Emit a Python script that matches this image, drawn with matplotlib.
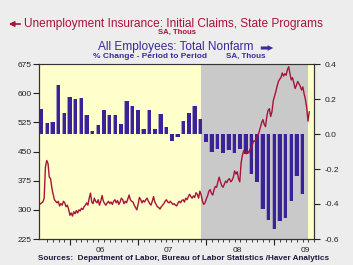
import matplotlib.pyplot as plt
import numpy as np

plt.rcParams['font.family'] = ['Liberation Sans', 'DejaVu Sans']

# weekly initial claims, thousands (from mid-2005)
claims = [313, 315, 318, 320, 330, 410, 427, 419, 384, 380,
          356, 340, 326, 322, 318, 322, 310, 316, 312, 322,
          318, 308, 312, 302, 286, 292, 284, 295, 290, 298,
          292, 300, 297, 304, 301, 308, 312, 318, 312, 330,
          343, 320, 316, 330, 322, 318, 326, 312, 322, 337,
          322, 316, 312, 318, 322, 316, 320, 314, 322, 326,
          318, 324, 314, 320, 330, 326, 316, 322, 318, 328,
          338, 326, 322, 320, 312, 306, 300, 314, 332, 326,
          318, 324, 320, 326, 330, 322, 316, 312, 322, 334,
          320, 314, 308, 306, 302, 308, 312, 316, 322, 326,
          320, 318, 322, 318, 314, 316, 312, 310, 318, 322,
          318, 324, 326, 320, 330, 326, 334, 340, 334, 330,
          336, 332, 344, 340, 330, 348, 338, 322, 314, 318,
          328, 336, 348, 352, 342, 338, 352, 360, 358, 372,
          384, 372, 362, 358, 366, 374, 370, 378, 380, 372,
          376, 384, 400, 392, 398, 380, 372, 420, 440, 452,
          448, 444, 452, 446, 456, 460, 470, 478, 476, 484,
          490, 500, 512, 524, 532, 520, 514, 540, 556, 560,
          540, 552, 580, 592, 604, 618, 630, 636, 640, 652,
          644, 650, 646, 660, 668, 650, 634, 640, 626, 612,
          620, 630, 624, 618, 608, 616, 598, 584, 562, 528,
          552]
claims_start = 2005.545
week_step = 0.0189

# monthly nonfarm payrolls, % change, Aug 2005 - Jun 2009
payroll_pct = [0.141, 0.064, 0.070, 0.279, 0.120, 0.214, 0.198, 0.208, 0.110, 0.020,
               0.050, 0.135, 0.106, 0.106, 0.059, 0.190, 0.162, 0.135, 0.026, 0.135,
               0.026, 0.112, 0.040, -0.041, -0.016, 0.072, 0.122, 0.158, 0.086, -0.046,
               -0.103, -0.086, -0.111, -0.092, -0.111, -0.086, -0.115, -0.230, -0.272, -0.431,
               -0.494, -0.540, -0.498, -0.479, -0.381, -0.238, -0.345]
bar_start = 2005 + 7 / 12

recession = (2007 + 11 / 12, 2009.495)
years = [2006, 2007, 2008, 2009]
year_labels = ['06', '07', '08', '09']

red = '#A8133A'
blue = '#3A2A9C'
W, H = 353, 265

fig = plt.figure(figsize=(W / 100, H / 100), dpi=100, facecolor='#EDEDED')
ax = fig.add_axes([39 / W, 26 / H, 275 / W, 175 / H])
ax2 = ax.twinx()
ax.set_zorder(2)
ax2.set_zorder(1)
ax.patch.set_visible(False)
ax2.patch.set_visible(True)
ax2.patch.set_facecolor('#FFFFCC')

ax2.axvspan(recession[0], recession[1], color='#C9C9C9', lw=0, zorder=0)

bx = bar_start + np.arange(len(payroll_pct)) / 12
ax2.bar(bx - 0.01, payroll_pct, width=0.054, color='#A29CC0', zorder=2)
ax2.bar(bx, payroll_pct, width=0.052, color='#3B2296', zorder=3)

cx = claims_start + np.arange(len(claims)) * week_step
ax.plot(cx, claims, color=red, lw=1.0)

ax.set_xlim(2005.545, 2009.537)
ax.set_ylim(225, 675)
ax2.set_ylim(-0.6, 0.4)

ax.set_yticks([225, 300, 375, 450, 525, 600, 675])
ax2.set_yticks([-0.6, -0.4, -0.2, 0.0, 0.2, 0.4])
ax2.set_yticklabels([f'{v:.1f}' for v in [-0.6, -0.4, -0.2, 0.0, 0.2, 0.4]])
ax.tick_params(axis='y', direction='out', length=4, labelsize=6, pad=1, colors='#222222')
ax2.tick_params(axis='y', direction='out', length=4, labelsize=6, pad=4, colors='#222222')

months = bar_start - 7 / 12 + np.arange(8, 56) / 12
ax.set_xticks(years)
ax.set_xticklabels([])
ax.set_xticks(months, minor=True)
ax.tick_params(axis='x', which='major', direction='out', length=4, color='#222222')
ax.tick_params(axis='x', which='minor', direction='out', length=2, color='#222222')
for y, lab in zip(years, year_labels):
    ax.text(y + 0.45, -0.045, lab, transform=ax.get_xaxis_transform(),
            ha='center', va='top', fontsize=6, color='#222222')

for a in (ax, ax2):
    for s in a.spines.values():
        s.set_color('#333333')
        s.set_linewidth(0.8)
ax2.spines['top'].set_color('#888888')


def fx(x):
    return x / W


def fy(y):
    return 1 - y / H


fig.text(fx(24), fy(24), 'Unemployment Insurance: Initial Claims, State Programs',
         ha='left', va='center', fontsize=8.6, color=red)
fig.patches.append(plt.matplotlib.patches.FancyArrowPatch(
    (fx(23), fy(24)), (fx(6), fy(24)), transform=fig.transFigure,
    arrowstyle='-|>,head_length=3,head_width=1.5', color=red, lw=1.2))
fig.text(fx(177), fy(32), 'SA, Thous', ha='center', va='center', fontsize=5.6,
         fontweight='bold', color=red)

fig.text(fx(176), fy(47), 'All Employees: Total Nonfarm',
         ha='center', va='center', fontsize=8.6, color=blue)
fig.patches.append(plt.matplotlib.patches.FancyArrowPatch(
    (fx(258), fy(48)), (fx(276), fy(48)), transform=fig.transFigure,
    arrowstyle='simple,head_length=4,head_width=4,tail_width=2.2', color=blue, lw=0))
fig.text(fx(150), fy(56), '% Change - Period to Period', ha='center', va='center',
         fontsize=6, fontweight='bold', color=blue)
fig.text(fx(246), fy(56), 'SA, Thous', ha='center', va='center', fontsize=5.8,
         fontweight='bold', color=blue)

fig.text(fx(184), fy(258), 'Sources:  Department of Labor, Bureau of Labor Statistics /Haver Analytics',
         ha='center', va='center', fontsize=5.9, fontweight='bold', color='#1C1C3C')

fig.savefig('out.png', dpi=100, facecolor=fig.get_facecolor())
